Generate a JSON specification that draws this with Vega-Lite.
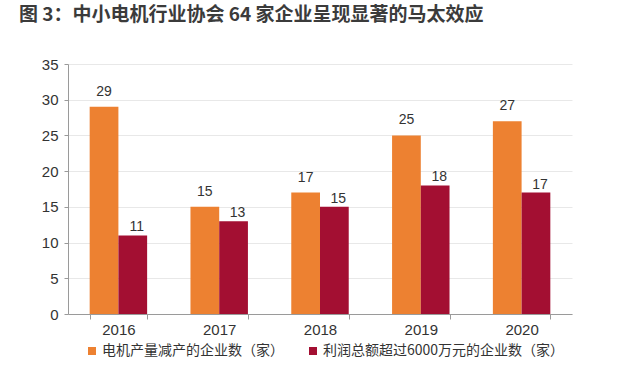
{
  "$schema": "https://vega.github.io/schema/vega-lite/v6.json",
  "width": 504,
  "height": 250,
  "autosize": {"type": "none"},
  "padding": {"left": 68, "top": 64, "right": 68, "bottom": 59},
  "background": "white",
  "config": {
    "view": {"stroke": null},
    "font": "Liberation Sans, Noto Sans CJK SC, sans-serif"
  },
  "title": {
    "text": "图 3：中小电机行业协会 64 家企业呈现显著的马太效应",
    "anchor": "start",
    "frame": "group",
    "dx": -49,
    "offset": 32,
    "fontSize": 19,
    "fontWeight": "bold",
    "color": "#3b3b3b",
    "font": "Noto Sans CJK SC, Liberation Sans, sans-serif"
  },
  "data": {
    "values": [
      {"year": "2016", "series": "电机产量减产的企业数（家）", "value": 29},
      {"year": "2016", "series": "利润总额超过6000万元的企业数（家）", "value": 11},
      {"year": "2017", "series": "电机产量减产的企业数（家）", "value": 15},
      {"year": "2017", "series": "利润总额超过6000万元的企业数（家）", "value": 13},
      {"year": "2018", "series": "电机产量减产的企业数（家）", "value": 17},
      {"year": "2018", "series": "利润总额超过6000万元的企业数（家）", "value": 15},
      {"year": "2019", "series": "电机产量减产的企业数（家）", "value": 25},
      {"year": "2019", "series": "利润总额超过6000万元的企业数（家）", "value": 18},
      {"year": "2020", "series": "电机产量减产的企业数（家）", "value": 27},
      {"year": "2020", "series": "利润总额超过6000万元的企业数（家）", "value": 17}
    ]
  },
  "encoding": {
    "x": {
      "field": "year",
      "type": "nominal",
      "scale": {"paddingInner": 0.43, "paddingOuter": 0.215},
      "axis": {
        "title": null,
        "labelAngle": 0,
        "labelFontSize": 15,
        "labelColor": "#333333",
        "domainColor": "#9a9a9a",
        "tickColor": "#9a9a9a",
        "tickBand": "extent",
        "tickSize": 5,
        "labelPadding": 3
      }
    },
    "xOffset": {
      "field": "series",
      "type": "nominal",
      "scale": {"domain": ["电机产量减产的企业数（家）", "利润总额超过6000万元的企业数（家）"], "paddingInner": 0, "paddingOuter": 0}
    },
    "y": {
      "field": "value",
      "type": "quantitative",
      "scale": {"domain": [0, 35], "nice": false},
      "axis": {
        "title": null,
        "values": [0, 5, 10, 15, 20, 25, 30, 35],
        "labelFontSize": 15,
        "labelColor": "#333333",
        "domainColor": "#9a9a9a",
        "tickColor": "#9a9a9a",
        "tickSize": 4,
        "labelPadding": 6,
        "gridColor": "#e8e8e8"
      }
    }
  },
  "layer": [
    {
      "mark": {"type": "bar"},
      "encoding": {
        "color": {
          "field": "series",
          "type": "nominal",
          "scale": {
            "domain": ["电机产量减产的企业数（家）", "利润总额超过6000万元的企业数（家）"],
            "range": ["#ED8131", "#A30F32"]
          },
          "legend": {
            "title": null,
            "orient": "none",
            "legendX": 17,
            "legendY": 280,
            "direction": "horizontal",
            "symbolType": "square",
            "symbolSize": 64,
            "symbolStrokeWidth": 0,
            "labelFontSize": 14,
            "labelColor": "#333333",
            "labelFont": "Noto Sans CJK SC, Liberation Sans, sans-serif",
            "labelLimit": 400,
            "labelOffset": 3,
            "columnPadding": 22
          }
        }
      }
    },
    {
      "transform": [{"filter": "datum.series === '电机产量减产的企业数（家）'"}],
      "mark": {"type": "text", "baseline": "alphabetic", "dy": -11, "fontSize": 14, "color": "#333333"},
      "encoding": {"text": {"field": "value", "type": "quantitative"}}
    },
    {
      "transform": [{"filter": "datum.series !== '电机产量减产的企业数（家）'"}],
      "mark": {"type": "text", "baseline": "alphabetic", "dy": -4, "dx": 4, "fontSize": 14, "color": "#333333"},
      "encoding": {"text": {"field": "value", "type": "quantitative"}}
    }
  ]
}
